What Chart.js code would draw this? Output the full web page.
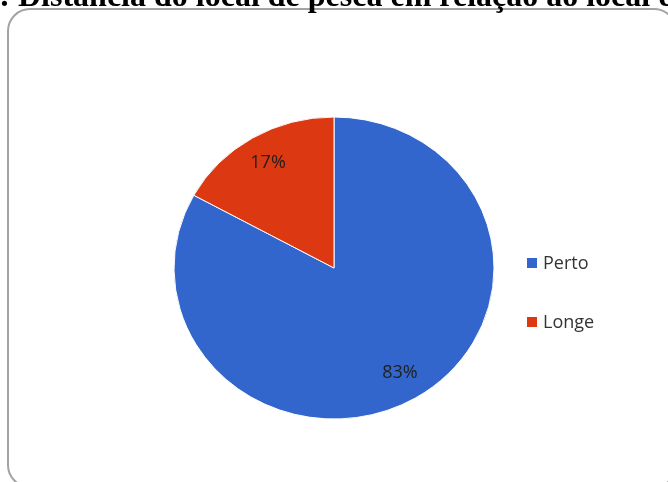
<!DOCTYPE html>
<html>
<head>
<meta charset="utf-8">
<script src="https://cdn.jsdelivr.net/npm/chart.js@4"></script>
<style>
  html, body { margin: 0; padding: 0; background: #ffffff; }
  #wrap { width: 668px; height: 482px; position: relative; overflow: hidden; }
  canvas { display: block; }
</style>
</head>
<body>
<div id="wrap"><canvas id="c" width="668" height="482"></canvas></div>
<script>
// Data
const categories = ['Perto', 'Longe'];
const shares = [83, 17];
const sliceColors = ['#3366CC', '#DC3912'];
const titlePrefix = 'Gráfico 5: ';
const titleText = 'Distância do local de pesca em relação ao local de moradia';

// Layout
const PIE_RX = 160;          // horizontal radius
const PIE_RY = 151;          // vertical radius (pie is drawn slightly flattened)
const LABEL_FRACTION = 0.81; // where the percentage labels sit along the radius

const framePlugin = {
  id: 'frame',
  beforeDraw(chart) {
    const ctx = chart.ctx;
    ctx.save();
    // rounded frame
    ctx.strokeStyle = '#a3a3a3';
    ctx.lineWidth = 2;
    ctx.beginPath();
    ctx.roundRect(8, 9, 668, 478, 22);
    ctx.stroke();
    // title (runs past the canvas edge)
    ctx.font = 'bold 32px "Liberation Serif", "Times New Roman", serif';
    ctx.fillStyle = '#000000';
    ctx.textBaseline = 'alphabetic';
    ctx.textAlign = 'left';
    const pre = ctx.measureText(titlePrefix).width;
    ctx.fillText(titlePrefix + titleText, 18 - pre, 6);
    ctx.restore();
  }
};

const ellipsePlugin = {
  id: 'ellipse',
  beforeDatasetsDraw(chart) {
    const arc = chart.getDatasetMeta(0).data[0];
    const ctx = chart.ctx;
    ctx.save();
    ctx.translate(arc.x, arc.y);
    ctx.scale(1, PIE_RY / PIE_RX);
    ctx.translate(-arc.x, -arc.y);
  },
  afterDatasetsDraw(chart) {
    const ctx = chart.ctx;
    ctx.restore();
    // percentage labels
    const meta = chart.getDatasetMeta(0);
    const total = shares.reduce((a, b) => a + b, 0);
    ctx.save();
    ctx.font = '18px "Open Sans", sans-serif';
    ctx.fillStyle = '#1f1f1f';
    ctx.textAlign = 'center';
    ctx.textBaseline = 'middle';
    meta.data.forEach((el, i) => {
      const mid = (el.startAngle + el.endAngle) / 2;
      const x = el.x + Math.cos(mid) * el.outerRadius * LABEL_FRACTION;
      const y = el.y + Math.sin(mid) * el.outerRadius * LABEL_FRACTION * (PIE_RY / PIE_RX);
      ctx.fillText(Math.round(shares[i] / total * 100) + '%', x, y);
    });
    ctx.restore();
  },
  afterDraw(chart) {
    // legend on the right
    const ctx = chart.ctx;
    const arc = chart.getDatasetMeta(0).data[0];
    ctx.save();
    ctx.font = '18px "Open Sans", sans-serif';
    ctx.textAlign = 'left';
    ctx.textBaseline = 'middle';
    categories.forEach((name, i) => {
      const cy = arc.y - 5 + i * 59;
      ctx.fillStyle = sliceColors[i];
      ctx.fillRect(527, cy - 5, 10, 10);
      ctx.fillStyle = '#333333';
      ctx.fillText(name, 543, cy + 1);
    });
    ctx.restore();
  }
};

new Chart(document.getElementById('c'), {
  type: 'pie',
  data: {
    labels: categories,
    datasets: [{
      data: shares,
      backgroundColor: sliceColors,
      borderColor: '#ffffff',
      borderWidth: 1,
      radius: PIE_RX
    }]
  },
  options: {
    responsive: false,
    animation: false,
    devicePixelRatio: 1,
    layout: { padding: { top: 54, bottom: 0, left: 0, right: 0 } },
    plugins: {
      legend: { display: false },
      title: { display: false },
      tooltip: { enabled: false }
    }
  },
  plugins: [framePlugin, ellipsePlugin]
});
</script>
</body>
</html>
